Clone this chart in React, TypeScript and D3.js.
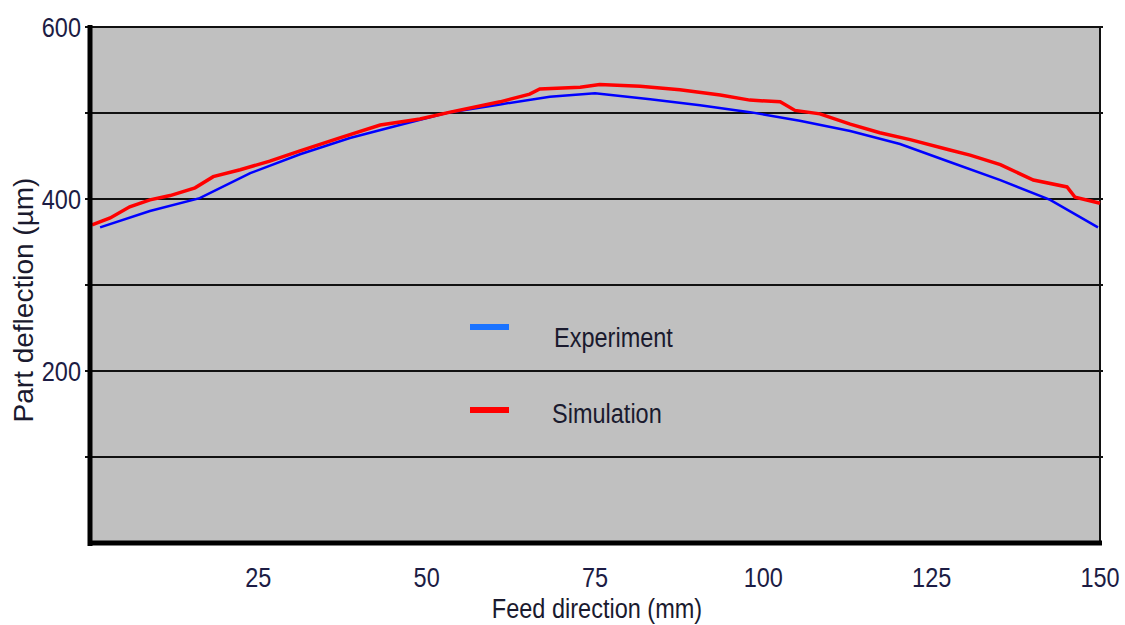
import React from "react";
import * as d3 from "d3";

// Experiment curve (feed direction mm, deflection µm)
const expX = [1.5, 8.9, 16.3, 23.8, 31.2, 38.6, 46.0, 53.5, 60.9, 68.3, 75.0, 83.2, 90.6, 98.0, 105.4, 112.9, 120.3, 127.7, 135.2, 142.6, 149.7];
const expY = [367, 386, 401, 430, 452, 471, 486, 501, 510, 519, 523, 516, 509, 501, 491, 479, 464, 443, 422, 399, 367];

// Simulation curve
const simX = [0.3, 3.0, 5.9, 8.9, 11.9, 15.6, 18.3, 22.3, 26.7, 31.2, 37.1, 43.1, 49.0, 53.5, 60.9, 65.3, 66.8, 72.8, 75.7, 81.7, 87.6, 93.6, 98.0, 102.5, 104.7, 108.4, 112.9, 117.3, 121.8, 127.7, 130.7, 135.2, 140.1, 145.1, 146.3, 150];
const simY = [370, 378, 391, 399, 404, 413, 426, 434, 444, 456, 471, 486, 493, 501, 513, 522, 528, 530, 533, 531, 527, 521, 515, 513, 503, 499, 487, 477, 469, 457, 451, 440, 422, 414, 402, 395];

const xTicks = [25, 50, 75, 100, 125, 150];
const yTicks = [600, 400, 200];
const gridValues = [600, 500, 400, 300, 200, 100];

const legendItems = ["Experiment", "Simulation"];
const legendColors = ["#1a73ff", "#ff0000"];

const FONT = "'Liberation Sans', Arial, sans-serif";

// the original's horizontal text is squeezed sideways
function Narrow(props: { x: number; y: number; anchor?: string; fill?: string; children: React.ReactNode }) {
  const { x, y, anchor = "start", fill = "#1c1c44", children } = props;
  return (
    <text
      transform={`translate(${x},${y}) scale(0.84,1)`}
      textAnchor={anchor}
      fontFamily={FONT}
      fontSize={28}
      fill={fill}
    >
      {children}
    </text>
  );
}

export default function App() {
  const W = 1125;
  const H = 625;
  const left = 90;
  const right = 1100;
  const top = 27;
  const bottom = 543;

  const x = d3.scaleLinear().domain([0, 150]).range([left, right]);
  const y = d3.scaleLinear().domain([0, 600]).range([bottom, top]);

  const lineGen = d3
    .line<[number, number]>()
    .x((d) => x(d[0]))
    .y((d) => y(d[1]));

  const expPath = lineGen(expX.map((v, i) => [v, expY[i]] as [number, number]));
  const simPath = lineGen(simX.map((v, i) => [v, simY[i]] as [number, number]));

  return (
    <svg
      width={W}
      height={H}
      style={{ position: "absolute", left: 0, top: 0, background: "#fff" }}
    >
      <rect x={left} y={top} width={right - left} height={bottom - top} fill="#c0c0c0" />
      {gridValues.map((v) => (
        <line
          key={v}
          x1={left - 5}
          x2={right + 3}
          y1={y(v)}
          y2={y(v)}
          stroke="#111"
          strokeWidth={2}
        />
      ))}
      <line x1={right} x2={right} y1={top} y2={bottom} stroke="#111" strokeWidth={2} />
      <path d={expPath || ""} fill="none" stroke="#0000ff" strokeWidth={2.5} />
      <path d={simPath || ""} fill="none" stroke="#ff0000" strokeWidth={3.5} />
      <line x1={left} x2={left} y1={top - 2} y2={bottom + 3} stroke="#000" strokeWidth={5} />
      <line x1={left - 2} x2={right + 2} y1={bottom} y2={bottom} stroke="#000" strokeWidth={5} />

      {yTicks.map((v) => (
        <Narrow key={v} x={left - 9} y={y(v) + 10} anchor="end">
          {v}
        </Narrow>
      ))}
      {xTicks.map((v) => (
        <Narrow key={v} x={x(v)} y={587} anchor="middle">
          {v}
        </Narrow>
      ))}

      {legendItems.map((name, i) => (
        <g key={name}>
          <line
            x1={470}
            x2={509}
            y1={i === 0 ? 327 : 410}
            y2={i === 0 ? 327 : 410}
            stroke={legendColors[i]}
            strokeWidth={6}
          />
          <Narrow x={i === 0 ? 554 : 552} y={i === 0 ? 347 : 423} fill="#1a1a2e">
            {name}
          </Narrow>
        </g>
      ))}

      <Narrow x={597} y={618} anchor="middle" fill="#1a1a2e">
        Feed direction (mm)
      </Narrow>
      <text
        transform={`translate(33, 300) rotate(-90)`}
        textAnchor="middle"
        fontFamily={FONT}
        fontSize={28}
        fill="#1a1a2e"
      >
        Part deflection (µm)
      </text>
    </svg>
  );
}
